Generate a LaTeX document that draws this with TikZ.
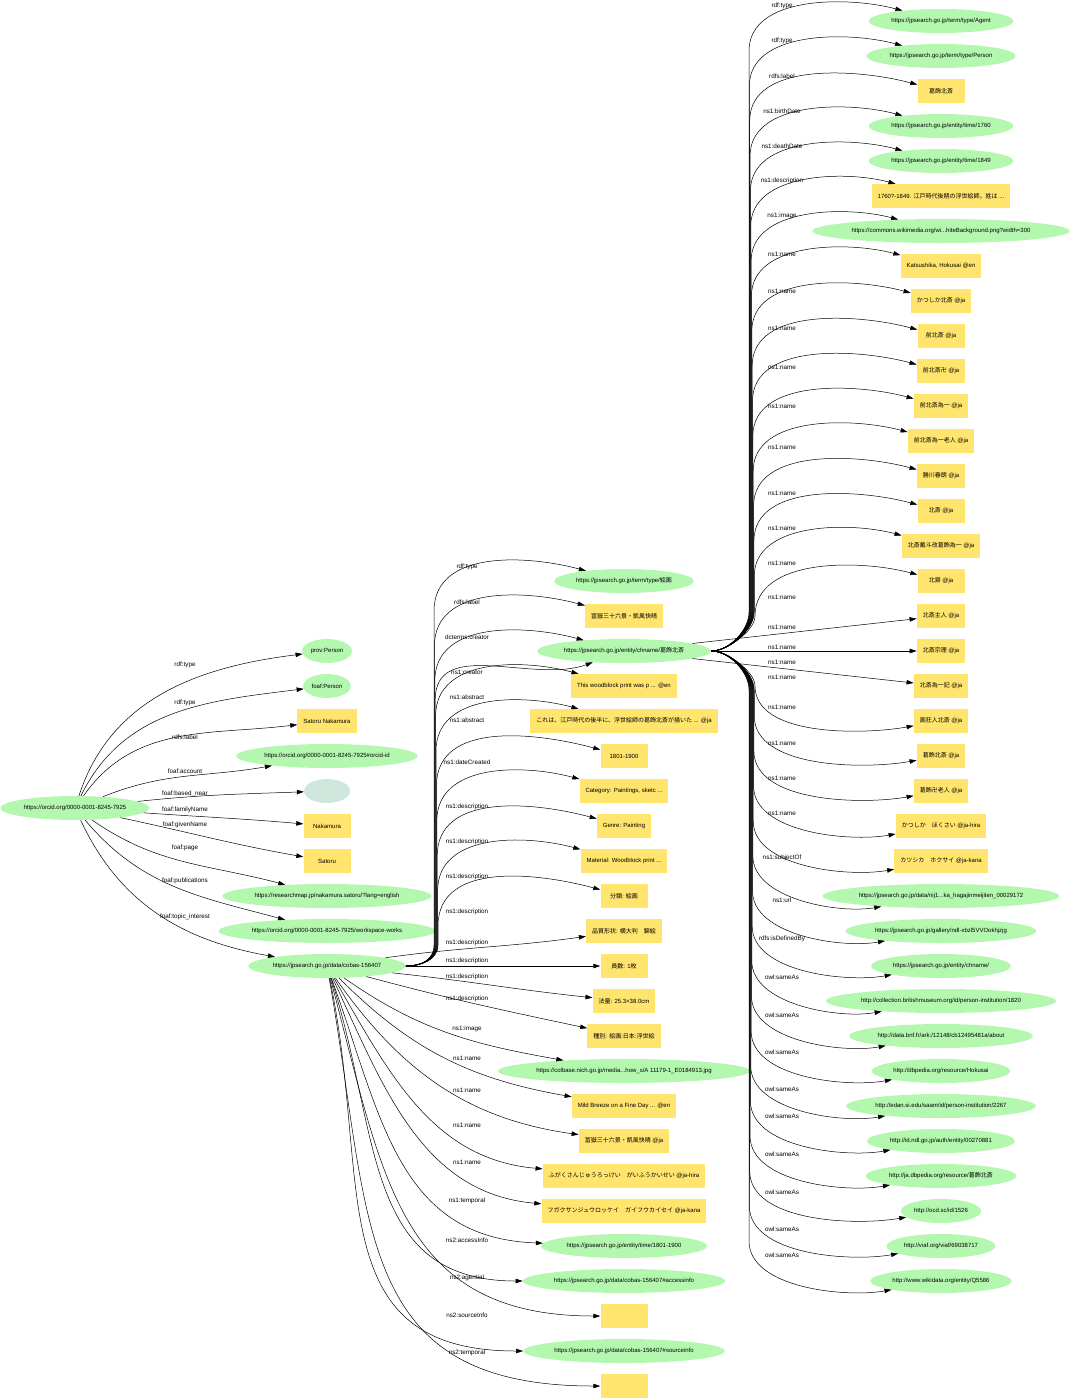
\documentclass[tikz,border=0pt]{standalone}
\usepackage{fontspec}
\setmainfont{Liberation Sans}
\newfontfamily\jpfont{Noto Sans CJK JP}
\usetikzlibrary{shapes.geometric,arrows.meta}

\definecolor{urigreen}{RGB}{180,248,176}
\definecolor{litgold}{RGB}{255,228,110}
\definecolor{bnodegray}{RGB}{206,230,220}

\begin{document}
\begin{tikzpicture}[x=1pt,y=1pt,
  >={Triangle[length=7pt,width=4.5pt]},
  uri/.style={ellipse,fill=urigreen,inner xsep=1.5pt,minimum width=46pt,minimum height=24pt,font=\fontsize{6}{7}\selectfont},
  lit/.style={rectangle,fill=litgold,inner xsep=6pt,minimum width=47pt,minimum height=24pt,font=\fontsize{6}{7}\selectfont},
  bnode/.style={ellipse,fill=bnodegray,minimum width=46pt,minimum height=24pt},
  prop/.style={inner sep=1pt,font=\fontsize{6.3}{7}\selectfont},
  rel/.style={->,line width=0.5pt}]

  \useasboundingbox (0,0) rectangle (1069,-1400);

  \node[uri] (orcid) at (75,-808) {https://orcid.org/0000-0001-8245-7925};
  \node[uri] (provperson) at (327,-651) {prov:Person};
  \node[uri] (foafperson) at (327,-686) {foaf:Person};
  \node[lit] (satorunk) at (327,-721) {Satoru Nakamura};
  \node[uri] (orcidid) at (327,-756) {https://orcid.org/0000-0001-8245-7925\#orcid-id};
  \node[bnode] (blank) at (327,-791) {};
  \node[lit] (famname) at (327,-826) {Nakamura};
  \node[lit] (givname) at (327,-861) {Satoru};
  \node[uri] (rmap) at (327,-896) {https://researchmap.jp/nakamura.satoru/?lang=english};
  \node[uri] (works) at (327,-931) {https://orcid.org/0000-0001-8245-7925/workspace-works};
  \node[uri] (cobas) at (327,-966) {https://jpsearch.go.jp/data/cobas-156407};

  \node[uri] (painting) at (624,-581) {https://jpsearch.go.jp/term/type/{\jpfont 絵画}};
  \node[lit] (title) at (624,-616) {{\jpfont 冨嶽三十六景・凱風快晴}};
  \node[uri] (hub) at (624,-651) {https://jpsearch.go.jp/entity/chname/{\jpfont 葛飾北斎}};
  \node[lit] (abseng) at (624,-686) {This woodblock print was p ... @en};
  \node[lit] (absjp) at (624,-721) {{\jpfont これは、江戸時代の後半に、浮世絵師の葛飾北斎が描いた} ... @ja};
  \node[lit] (created) at (624,-756) {1801-1900};
  \node[lit] (cat) at (624,-791) {Category: Paintings, sketc ...};
  \node[lit] (genre) at (624,-826) {Genre: Painting};
  \node[lit] (material) at (624,-861) {Material: Woodblock print ...};
  \node[lit] (bunrui) at (624,-896) {{\jpfont 分類}: {\jpfont 絵画}};
  \node[lit] (hinshitsu) at (624,-931) {{\jpfont 品質形状}: {\jpfont 横大判　錦絵}};
  \node[lit] (insu) at (624,-966) {{\jpfont 員数}: 1{\jpfont 枚}};
  \node[lit] (horyo) at (624,-1001) {{\jpfont 法量}: 25.3×38.0cm};
  \node[lit] (shubetsu) at (624,-1036) {{\jpfont 種別}: {\jpfont 絵画}:{\jpfont 日本}:{\jpfont 浮世絵}};
  \node[uri] (colbase) at (624,-1071) {https://colbase.nich.go.jp/media...how\_s/A 11179-1\_E0184913.jpg};
  \node[lit] (nameen) at (624,-1106) {Mild Breeze on a Fine Day ... @en};
  \node[lit] (nameja) at (624,-1141) {{\jpfont 冨嶽三十六景・凱風快晴} @ja};
  \node[lit] (namehira) at (624,-1176) {{\jpfont ふがくさんじゅうろっけい　がいふうかいせい} @ja-hira};
  \node[lit] (namekana) at (624,-1211) {{\jpfont フガクサンジュウロッケイ　ガイフウカイセイ} @ja-kana};
  \node[uri] (temporal) at (624,-1246) {https://jpsearch.go.jp/entity/time/1801-1900};
  \node[uri] (access) at (624,-1281) {https://jpsearch.go.jp/data/cobas-156407\#accessinfo};
  \node[lit] (agential) at (624,-1316) {};
  \node[uri] (source) at (624,-1351) {https://jpsearch.go.jp/data/cobas-156407\#sourceinfo};
  \node[lit] (temporaltwo) at (624,-1386) {};

  \node[uri] (agent) at (941,-21) {https://jpsearch.go.jp/term/type/Agent};
  \node[uri] (person) at (941,-56) {https://jpsearch.go.jp/term/type/Person};
  \node[lit] (hklabel) at (941,-91) {{\jpfont 葛飾北斎}};
  \node[uri] (birth) at (941,-126) {https://jpsearch.go.jp/entity/time/1760};
  \node[uri] (death) at (941,-161) {https://jpsearch.go.jp/entity/time/1849};
  \node[lit] (hkdesc) at (941,-196) {1760?-1849. {\jpfont 江戸時代後期の浮世絵師。姓は} ...};
  \node[uri] (hkimage) at (941,-231) {https://commons.wikimedia.org/wi...hiteBackground.png?width=300};
  \node[lit] (n1) at (941,-266) {Katsushika, Hokusai @en};
  \node[lit] (n2) at (941,-301) {{\jpfont かつしか北斎} @ja};
  \node[lit] (n3) at (941,-336) {{\jpfont 前北斎} @ja};
  \node[lit] (n4) at (941,-371) {{\jpfont 前北斎卍} @ja};
  \node[lit] (n5) at (941,-406) {{\jpfont 前北斎為一} @ja};
  \node[lit] (n6) at (941,-441) {{\jpfont 前北斎為一老人} @ja};
  \node[lit] (n7) at (941,-476) {{\jpfont 勝川春朗} @ja};
  \node[lit] (n8) at (941,-511) {{\jpfont 北斎} @ja};
  \node[lit] (n9) at (941,-546) {{\jpfont 北斎戴斗改葛飾為一} @ja};
  \node[lit] (n10) at (941,-581) {{\jpfont 北齋} @ja};
  \node[lit] (n11) at (941,-616) {{\jpfont 北斎主人} @ja};
  \node[lit] (n12) at (941,-651) {{\jpfont 北斎宗理} @ja};
  \node[lit] (n13) at (941,-686) {{\jpfont 北斎為一記} @ja};
  \node[lit] (n14) at (941,-721) {{\jpfont 画狂人北斎} @ja};
  \node[lit] (n15) at (941,-756) {{\jpfont 葛飾北斎} @ja};
  \node[lit] (n16) at (941,-791) {{\jpfont 葛飾卍老人} @ja};
  \node[lit] (n17) at (941,-826) {{\jpfont かつしか　ほくさい} @ja-hira};
  \node[lit] (n18) at (941,-861) {{\jpfont カツシカ　ホクサイ} @ja-kana};
  \node[uri] (subjof) at (941,-896) {https://jpsearch.go.jp/data/nij1...ka\_hagajinmeijiten\_00029172};
  \node[uri] (hkurl) at (941,-931) {https://jpsearch.go.jp/gallery/ndl-xbzl5VVOokhjzjg};
  \node[uri] (defby) at (941,-966) {https://jpsearch.go.jp/entity/chname/};
  \node[uri] (same1) at (941,-1001) {http://collection.britishmuseum.org/id/person-institution/1820};
  \node[uri] (same2) at (941,-1036) {http://data.bnf.fr/ark:/12148/cb12495481a/about};
  \node[uri] (same3) at (941,-1071) {http://dbpedia.org/resource/Hokusai};
  \node[uri] (same4) at (941,-1106) {http://edan.si.edu/saam/id/person-institution/2267};
  \node[uri] (same5) at (941,-1141) {http://id.ndl.go.jp/auth/entity/00270881};
  \node[uri] (same6) at (941,-1176) {http://ja.dbpedia.org/resource/{\jpfont 葛飾北斎}};
  \node[uri] (same7) at (941,-1211) {http://ocd.sc/id/1526};
  \node[uri] (same8) at (941,-1246) {http://viaf.org/viaf/69038717};
  \node[uri] (same9) at (941,-1281) {http://www.wikidata.org/entity/Q5586};

  \draw[rel] (orcid) to[out=72,in=187] (provperson);
  \draw[rel] (orcid) to[out=64,in=187] (foafperson);
  \draw[rel] (orcid) to[out=55,in=187] (satorunk);
  \draw[rel] (orcid) to[out=22,in=190] (orcidid);
  \draw[rel] (orcid) to[out=6,in=182] (blank);
  \draw[rel] (orcid) to[out=-4,in=175] (famname);
  \draw[rel] (orcid) to[out=-12,in=170] (givname);
  \draw[rel] (orcid) to[out=-35,in=165] (rmap);
  \draw[rel] (orcid) to[out=-50,in=165] (works);
  \draw[rel] (orcid) to[out=-65,in=170] (cobas);

  \node[prop] (la1) at (185,-665) {rdf:type};
  \node[prop] (la2) at (185,-703) {rdf:type};
  \node[prop] (la3) at (185,-737) {rdfs:label};
  \node[prop] (la4) at (185,-771) {foaf:account};
  \node[prop] (la5) at (185,-794) {foaf:based\_near};
  \node[prop] (la6) at (185,-810) {foaf:familyName};
  \node[prop] (la7) at (185,-825) {foaf:givenName};
  \node[prop] (la8) at (185,-848) {foaf:page};
  \node[prop] (la9) at (185,-881) {foaf:publications};
  \node[prop] (la10) at (185,-917) {foaf:topic\_interest};

  \draw[rel] (cobas.east) to[out=0,in=-90,distance=15] (434,-945) -- (434,-611) to[out=90,in=165] (painting);
  \draw[rel] (cobas.east) to[out=0,in=-90,distance=15] (434.4,-945) -- (434.4,-646) to[out=90,in=165] (title);
  \draw[rel] (cobas.east) to[out=0,in=-90,distance=15] (434.8,-945) -- (434.8,-681) to[out=90,in=165] (hub);
  \draw[rel] (cobas.east) to[out=0,in=-90,distance=15] (435.2,-945) -- (435.2,-700) to[out=90,in=200] (hub);
  \draw[rel] (cobas.east) to[out=0,in=-90,distance=15] (435.6,-945) -- (435.6,-716) to[out=90,in=165] (abseng);
  \draw[rel] (cobas.east) to[out=0,in=-90,distance=15] (436,-945) -- (436,-751) to[out=90,in=165] (absjp);
  \draw[rel] (cobas.east) to[out=0,in=-90,distance=15] (436.4,-945) -- (436.4,-786) to[out=90,in=165] (created);
  \draw[rel] (cobas.east) to[out=0,in=-90,distance=15] (436.8,-945) -- (436.8,-821) to[out=90,in=165] (cat);
  \draw[rel] (cobas.east) to[out=0,in=-90,distance=15] (437.2,-945) -- (437.2,-856) to[out=90,in=165] (genre);
  \draw[rel] (cobas.east) to[out=0,in=-90,distance=15] (437.6,-945) -- (437.6,-891) to[out=90,in=165] (material);
  \draw[rel] (cobas.east) to[out=0,in=-90,distance=15] (438,-945) -- (438,-926) to[out=90,in=165] (bunrui);
  \draw[rel] (cobas) to[out=8,in=188] (hinshitsu);
  \draw[rel] (cobas) -- (insu);
  \draw[rel] (cobas) to[out=-6,in=174] (horyo);
  \draw[rel] (cobas) to[out=-15,in=168] (shubetsu);
  \draw[rel] (cobas) to[out=-35,in=170] (colbase);
  \draw[rel] (cobas) to[out=-45,in=170] (nameen);
  \draw[rel] (cobas) to[out=-55,in=172] (nameja);
  \draw[rel] (cobas) to[out=-60,in=175] (namehira);
  \draw[rel] (cobas) to[out=-65,in=175] (namekana);
  \draw[rel] (cobas) to[out=-70,in=178,looseness=1.1] (temporal);
  \draw[rel] (cobas) to[out=-72,in=180,looseness=1.15] (access);
  \draw[rel] (cobas) to[out=-75,in=180,looseness=1.2] (agential);
  \draw[rel] (cobas) to[out=-78,in=180,looseness=1.25] (source);
  \draw[rel] (cobas) to[out=-80,in=180,looseness=1.3] (temporaltwo);

  \node[prop] (lb1) at (467,-567) {rdf:type};
  \node[prop] (lb2) at (467,-602) {rdfs:label};
  \node[prop] (lb3) at (467,-637) {dcterms:creator};
  \node[prop] (lb4) at (467,-672) {ns1:creator};
  \node[prop] (lb5) at (467,-697) {ns1:abstract};
  \node[prop] (lb6) at (467,-720) {ns1:abstract};
  \node[prop] (lb7) at (467,-762) {ns1:dateCreated};
  \node[prop] (lb8) at (467,-807) {ns1:description};
  \node[prop] (lb9) at (467,-842) {ns1:description};
  \node[prop] (lb10) at (467,-877) {ns1:description};
  \node[prop] (lb11) at (467,-912) {ns1:description};
  \node[prop] (lb12) at (467,-943) {ns1:description};
  \node[prop] (lb13) at (467,-961) {ns1:description};
  \node[prop] (lb14) at (467,-977) {ns1:description};
  \node[prop] (lb15) at (467,-999) {ns1:description};
  \node[prop] (lb16) at (467,-1029) {ns1:image};
  \node[prop] (lb17) at (467,-1058) {ns1:name};
  \node[prop] (lb18) at (467,-1090) {ns1:name};
  \node[prop] (lb19) at (467,-1125) {ns1:name};
  \node[prop] (lb20) at (467,-1162) {ns1:name};
  \node[prop] (lb21) at (467,-1201) {ns1:temporal};
  \node[prop] (lb22) at (467,-1240) {ns2:accessInfo};
  \node[prop] (lb23) at (467,-1278) {ns2:agential};
  \node[prop] (lb24) at (467,-1315) {ns2:sourceInfo};
  \node[prop] (lb25) at (467,-1353) {ns2:temporal};

  \draw[rel] (hub.east) to[out=0,in=-90,distance=18] (749,-612) -- (749,-51) to[out=90,in=165,looseness=0.9] (agent);
  \draw[rel] (hub.east) to[out=0,in=-90,distance=18] (749.35,-612) -- (749.35,-86) to[out=90,in=165,looseness=0.9] (person);
  \draw[rel] (hub.east) to[out=0,in=-90,distance=18] (749.7,-612) -- (749.7,-121) to[out=90,in=165,looseness=0.9] (hklabel);
  \draw[rel] (hub.east) to[out=0,in=-90,distance=18] (750.05,-612) -- (750.05,-156) to[out=90,in=165,looseness=0.9] (birth);
  \draw[rel] (hub.east) to[out=0,in=-90,distance=18] (750.4,-612) -- (750.4,-191) to[out=90,in=165,looseness=0.9] (death);
  \draw[rel] (hub.east) to[out=0,in=-90,distance=18] (750.75,-612) -- (750.75,-226) to[out=90,in=165,looseness=0.9] (hkdesc);
  \draw[rel] (hub.east) to[out=0,in=-90,distance=18] (751.1,-612) -- (751.1,-261) to[out=90,in=165,looseness=0.9] (hkimage);
  \draw[rel] (hub.east) to[out=0,in=-90,distance=18] (751.45,-612) -- (751.45,-296) to[out=90,in=165,looseness=0.9] (n1);
  \draw[rel] (hub.east) to[out=0,in=-90,distance=18] (751.8,-612) -- (751.8,-331) to[out=90,in=165,looseness=0.9] (n2);
  \draw[rel] (hub.east) to[out=0,in=-90,distance=18] (752.15,-612) -- (752.15,-366) to[out=90,in=165,looseness=0.9] (n3);
  \draw[rel] (hub.east) to[out=0,in=-90,distance=18] (752.5,-612) -- (752.5,-401) to[out=90,in=165,looseness=0.9] (n4);
  \draw[rel] (hub.east) to[out=0,in=-90,distance=18] (752.85,-612) -- (752.85,-436) to[out=90,in=165,looseness=0.9] (n5);
  \draw[rel] (hub.east) to[out=0,in=-90,distance=18] (753.2,-612) -- (753.2,-471) to[out=90,in=165,looseness=0.9] (n6);
  \draw[rel] (hub.east) to[out=0,in=-90,distance=18] (753.55,-612) -- (753.55,-506) to[out=90,in=165,looseness=0.9] (n7);
  \draw[rel] (hub.east) to[out=0,in=-90,distance=18] (753.9,-612) -- (753.9,-541) to[out=90,in=165,looseness=0.9] (n8);
  \draw[rel] (hub.east) to[out=0,in=-90,distance=18] (754.25,-612) -- (754.25,-576) to[out=90,in=165,looseness=0.9] (n9);
  \draw[rel] (hub.east) to[out=0,in=-90,distance=15] (755,-616) to[out=90,in=165,looseness=0.9] (n10);
  \draw[rel] (hub) -- (n11);
  \draw[rel] (hub.east) -- (n12);
  \draw[rel] (hub) -- (n13);
  \draw[rel] (hub.east) to[out=0,in=90,distance=15] (755,-686) to[out=-90,in=190,looseness=0.8] (n14);
  \draw[rel] (hub.east) to[out=0,in=90,distance=18] (754.25,-690) -- (754.25,-716) to[out=-90,in=190,looseness=0.8] (n15);
  \draw[rel] (hub.east) to[out=0,in=90,distance=18] (753.9,-690) -- (753.9,-751) to[out=-90,in=190,looseness=0.8] (n16);
  \draw[rel] (hub.east) to[out=0,in=90,distance=18] (753.55,-690) -- (753.55,-786) to[out=-90,in=190,looseness=0.8] (n17);
  \draw[rel] (hub.east) to[out=0,in=90,distance=18] (753.2,-690) -- (753.2,-821) to[out=-90,in=190,looseness=0.8] (n18);
  \draw[rel] (hub.east) to[out=0,in=90,distance=18] (752.85,-690) -- (752.85,-856) to[out=-90,in=190,looseness=0.8] (subjof);
  \draw[rel] (hub.east) to[out=0,in=90,distance=18] (752.5,-690) -- (752.5,-891) to[out=-90,in=190,looseness=0.8] (hkurl);
  \draw[rel] (hub.east) to[out=0,in=90,distance=18] (752.15,-690) -- (752.15,-926) to[out=-90,in=190,looseness=0.8] (defby);
  \draw[rel] (hub.east) to[out=0,in=90,distance=18] (751.8,-690) -- (751.8,-961) to[out=-90,in=190,looseness=0.8] (same1);
  \draw[rel] (hub.east) to[out=0,in=90,distance=18] (751.45,-690) -- (751.45,-996) to[out=-90,in=190,looseness=0.8] (same2);
  \draw[rel] (hub.east) to[out=0,in=90,distance=18] (751.1,-690) -- (751.1,-1031) to[out=-90,in=190,looseness=0.8] (same3);
  \draw[rel] (hub.east) to[out=0,in=90,distance=18] (750.75,-690) -- (750.75,-1066) to[out=-90,in=190,looseness=0.8] (same4);
  \draw[rel] (hub.east) to[out=0,in=90,distance=18] (750.4,-690) -- (750.4,-1101) to[out=-90,in=190,looseness=0.8] (same5);
  \draw[rel] (hub.east) to[out=0,in=90,distance=18] (750.05,-690) -- (750.05,-1136) to[out=-90,in=190,looseness=0.8] (same6);
  \draw[rel] (hub.east) to[out=0,in=90,distance=18] (749.7,-690) -- (749.7,-1171) to[out=-90,in=190,looseness=0.8] (same7);
  \draw[rel] (hub.east) to[out=0,in=90,distance=18] (749.35,-690) -- (749.35,-1206) to[out=-90,in=190,looseness=0.8] (same8);
  \draw[rel] (hub.east) to[out=0,in=90,distance=18] (749,-690) -- (749,-1241) to[out=-90,in=190,looseness=0.8] (same9);

  \node[prop] (lc1) at (782,-6) {rdf:type};
  \node[prop] (lc2) at (782,-41) {rdf:type};
  \node[prop] (lc3) at (782,-76) {rdfs:label};
  \node[prop] (lc4) at (782,-111) {ns1:birthDate};
  \node[prop] (lc5) at (782,-146) {ns1:deathDate};
  \node[prop] (lc6) at (782,-181) {ns1:description};
  \node[prop] (lc7) at (782,-216) {ns1:image};
  \node[prop] (lc8) at (782,-254) {ns1:name};
  \node[prop] (lc9) at (782,-291) {ns1:name};
  \node[prop] (lc10) at (782,-328) {ns1:name};
  \node[prop] (lc11) at (782,-367) {ns1:name};
  \node[prop] (lc12) at (782,-406) {ns1:name};
  \node[prop] (lc13) at (782,-447) {ns1:name};
  \node[prop] (lc14) at (782,-493) {ns1:name};
  \node[prop] (lc15) at (782,-528) {ns1:name};
  \node[prop] (lc16) at (782,-563) {ns1:name};
  \node[prop] (lc17) at (782,-597) {ns1:name};
  \node[prop] (lc18) at (782,-627) {ns1:name};
  \node[prop] (lc19) at (782,-647) {ns1:name};
  \node[prop] (lc20) at (782,-662) {ns1:name};
  \node[prop] (lc21) at (782,-677) {ns1:name};
  \node[prop] (lc22) at (782,-707) {ns1:name};
  \node[prop] (lc23) at (782,-743) {ns1:name};
  \node[prop] (lc24) at (782,-778) {ns1:name};
  \node[prop] (lc25) at (782,-813) {ns1:name};
  \node[prop] (lc26) at (782,-858) {ns1:subjectOf};
  \node[prop] (lc27) at (782,-900) {ns1:url};
  \node[prop] (lc28) at (782,-939) {rdfs:isDefinedBy};
  \node[prop] (lc29) at (782,-977) {owl:sameAs};
  \node[prop] (lc30) at (782,-1015) {owl:sameAs};
  \node[prop] (lc31) at (782,-1052) {owl:sameAs};
  \node[prop] (lc32) at (782,-1089) {owl:sameAs};
  \node[prop] (lc33) at (782,-1116) {owl:sameAs};
  \node[prop] (lc34) at (782,-1154) {owl:sameAs};
  \node[prop] (lc35) at (782,-1192) {owl:sameAs};
  \node[prop] (lc36) at (782,-1229) {owl:sameAs};
  \node[prop] (lc37) at (782,-1255) {owl:sameAs};
\end{tikzpicture}
\end{document}
